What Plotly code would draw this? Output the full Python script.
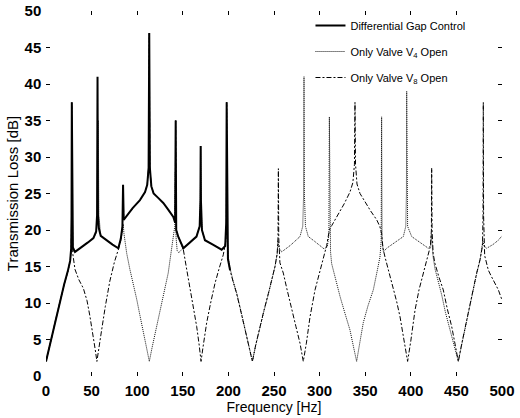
import plotly.graph_objects as go

# (frequency [Hz], transmission loss [dB])
GAP_CONTROL = [(0,2.0),(3,3.6),(6,5.2),(10,7.6),(15,10.2),(20,12.6),(24,14.4),(26.5,15.8),(27.6,17.5),
    (28.0,22),(28.3,37.5),(28.6,22),(29.5,17.6),(31.8,17.0),(40,17.7),(46,18.3),(52,18.9),(55,19.8),
    (56.0,22),(56.5,41),(57.0,22),(58,20.2),(60,19.2),(66,18.6),(73,18.0),(79.3,17.5),(82,18.8),
    (83.8,20.5),(84.5,26.2),(85.2,21.4),(88,21.9),(95,23.0),(103,24.1),(108.6,25.2),(111,26.2),
    (112.5,28.5),(113.2,47),(113.9,28.5),(115.5,26.0),(118,25.0),(123,24.4),(128.6,23.7),(134,22.8),
    (139.6,21.8),(141.6,21.0),(142.2,35),(142.8,20.0),(145,19.1),(150.6,17.5),(158,18.3),(165,19.1),
    (168.5,20.5),(169.3,24),(169.6,31.5),(169.9,24),(171,20),(174.3,18.6),(183,18.0),(192.6,17.3),
    (196.5,17.8),(197.6,21),(198.1,37.5),(198.6,21),(199.5,16.0),(201.8,14.5)]

VALVE_V4 = [(0,2.0),(3,3.5),(6,5.1),(10,7.5),(15,10.1),(20,12.5),(24,14.3),(26.5,15.7),(27.6,17.0),
    (28.3,17.6),(29.5,17.2),(31.8,17.0),(40,17.7),(46,18.3),(52,18.9),(55,19.6),(56.6,22),(57.3,35),
    (58,22),(60,19.3),(66,18.6),(73,18.0),(79.3,17.5),(82,18.5),(83.6,20.2),(84.6,20.8),(85.5,19.5),
    (88.5,16.8),(92,14.6),(95.8,12.7),(99.5,10.5),(103,8.3),(106.5,6.2),(110,4.0),(113.3,2.0),
    (116.5,4.0),(120,6.0),(125,8.5),(130,11.5),(134,14.1),(137,16.8),(139.6,19.3),(141.2,20.5),
    (141.9,28),(142.6,19.0),(143.8,17.2),(145.5,16.9),(148,17.2),(150.6,17.6),(158,18.3),(165,19.1),
    (168.5,20.5),(169.3,24),(169.6,31.5),(169.9,24),(171,20),(174.3,18.6),(183,18.0),(192.6,17.3),
    (196.5,17.7),(197.8,20),(198.4,30),(199,19),(200,16.2),(202,14.7),(205,13.1),(209,11.4),
    (213,9.3),(218.2,6.4),(222,4.3),(226.3,2.0),(230,4.2),(234.6,6.7),(239,8.9),(243.8,11.2),
    (248,13.3),(251.1,15.0),(253.5,16.7),(254.4,18.5),(255.3,17.6),(258.4,17.0),(268,17.9),
    (278.5,19.1),(281.5,20.5),(282.5,25),(282.9,41),(283.3,25),(284.5,20.5),(287.6,19.1),(294,18.5),
    (300.4,17.9),(305,17.4),(308.5,17.7),(310.2,19.5),(310.7,35.5),(311.2,19.5),(312,17),
    (313.2,15.4),(317.5,13.2),(322.4,10.9),(328,8.5),(333.3,6.3),(337.5,3.8),(340.6,2.0),(344,4.5),
    (347.9,7.3),(353,9.6),(358.9,11.8),(363,14.3),(366.2,16.3),(367.5,18.5),(368,35.5),(368.5,18.5),
    (370,17.0),(373.5,17.5),(382,18.3),(391.8,19.1),(394.5,20.5),(395.2,25),(395.5,39),(395.8,25),
    (396.5,20.5),(401,19.1),(410,18.3),(419.2,17.5),(421.8,17.9),(422.5,19.5),(423.4,18.0),
    (424.5,16.3),(426.5,14.7),(431,12.7),(433.9,11.1),(438,8.7),(443,6.2),(447.5,4.0),(452.1,2.0),
    (456,4.4),(461.3,7.7),(466.5,10.9),(472.2,14.0),(476,15.9),(477.7,17.2),(478.9,18.5),
    (480.5,17.8),(483.2,17.5),(490,18.0),(496,18.6),(500,19.2)]

VALVE_V8 = [(0,2.0),(3,3.6),(6,5.2),(10,7.6),(15,10.2),(20,12.6),(24,14.4),(26.5,15.8),(27.6,17.3),
    (28.0,21),(28.3,37.5),(28.6,21),(29.3,16.8),(31.8,14.6),(36,13.2),(41,12.0),(45,10.3),(48,8.3),
    (51,6.2),(54,3.6),(55.8,2.0),(57.5,3.6),(61,6.3),(65,9.5),(70,13.0),(75,15.6),(79.5,17.4),
    (83,19.3),(84.0,20.6),(84.6,26.2),(85.2,21.4),(88,21.9),(95,23.0),(103,24.1),(108.6,25.2),
    (111,26.2),(112.5,28.5),(113.2,47),(113.9,28.5),(115.5,26.0),(118,25.0),(123,24.4),(128.6,23.7),
    (134,22.8),(139.6,21.8),(141.6,21.0),(142.2,35),(142.8,20.0),(145,19.3),(150.6,17.3),(154,14.8),
    (157.9,12.2),(161.5,9.6),(165.2,6.8),(168,4.2),(170,2.0),(172,3.8),(176.2,7.3),(180.5,10.0),
    (185.3,12.7),(190,14.8),(194.4,16.6),(197.2,18.5),(197.8,21),(198.1,37.5),(198.5,21),
    (199.5,16.0),(201.8,14.5),(205,13.0),(209,11.3),(213,9.2),(218.2,6.3),(222,4.2),(226.3,2.0),
    (230,4.3),(234.6,6.8),(239,9.0),(243.8,11.3),(248,13.4),(251.1,15.0),(253.5,16.8),(254.4,19),
    (254.8,28.4),(255.2,19),(256.5,15.5),(260.2,14.1),(264,12.0),(269.4,9.0),(274,6.8),(278.5,4.5),
    (282.1,2.0),(285.5,4.5),(289.5,8.1),(295,11.8),(300.4,14.5),(304,16.2),(307.8,17.9),(310,19.5),
    (311.5,20.3),(313.3,20.6),(320,22.0),(327,23.6),(333.3,25.2),(336.5,26.5),(338.2,29),
    (338.8,37.5),(339.4,29),(341,26.3),(344.3,25.0),(350,23.8),(356,22.6),(362.6,21.4),(366,20.5),
    (368,19.5),(369.5,17.5),(371.7,16.3),(376,14.3),(380.8,12.2),(384.5,10.2),(388.2,8.1),(392,5.5),
    (396.5,2.0),(400,4.8),(404.6,9.0),(409,11.8),(413.7,14.1),(418,16.3),(421.5,17.8),(422.6,20),
    (422.9,28.5),(423.3,20),(424.5,16.8),(426.5,15.4),(431,13.5),(435.6,11.8),(440,9.2),(444.8,6.8),
    (448.5,4.4),(452.1,2.0),(456,4.5),(461.3,7.8),(466.5,11.0),(472.2,14.1),(476,16.0),(478.6,17.8),
    (479.2,22),(479.5,37.5),(479.8,22),(481,16.5),(485,14.5),(488.5,13.6),(492.3,12.7),(496,11.8),
    (500,10.4)]

NAMES = ["Differential Gap Control", "Only Valve V<sub>4</sub> Open", "Only Valve V<sub>8</sub> Open"]
X_TICKS = [0, 50, 100, 150, 200, 250, 300, 350, 400, 450, 500]
Y_TICKS = [0, 5, 10, 15, 20, 25, 30, 35, 40, 45, 50]

FONT = "Liberation Sans, Arial, sans-serif"

fig = go.Figure()
styles = [
    (GAP_CONTROL, dict(color="black", width=2, dash="solid"), 3),
    (VALVE_V4, dict(color="#111111", width=1, dash="1px,1px"), 1),
    (VALVE_V8, dict(color="black", width=1, dash="5px,2px,2px,2px"), 2),
]
for i, (pts, line, z) in enumerate(styles):
    fig.add_trace(go.Scatter(
        x=[p[0] for p in pts], y=[p[1] for p in pts], mode="lines",
        name=NAMES[i], line=line, zorder=z, legendgroup=f"g{i}",
    ))

axis_common = dict(showline=True, linecolor="black", linewidth=1.5, mirror="ticks",
                   ticks="inside", ticklen=4, tickcolor="black", showgrid=False, zeroline=False,
                   automargin=False,
                   tickfont=dict(family=FONT, size=15, color="black", weight="bold"))

fig.update_layout(
    width=520, height=418,
    margin=dict(l=46, r=18, t=11, b=42),
    paper_bgcolor="white", plot_bgcolor="white",
    font=dict(family=FONT, color="black"),
    showlegend=True,
    legend=dict(x=0.58, y=1.0, xanchor="left", yanchor="top", bgcolor="rgba(0,0,0,0)",
                font=dict(family=FONT, size=11, color="black"),
                traceorder="grouped", tracegroupgap=7),
    xaxis=dict(range=[0, 500], tickvals=X_TICKS,
               title=dict(text="Frequency [Hz]", font=dict(family=FONT, size=14), standoff=2),
               **axis_common),
    yaxis=dict(range=[0, 50], tickvals=Y_TICKS,
               title=dict(text="Transmission Loss [dB]", font=dict(family=FONT, size=15), standoff=2),
               **axis_common),
)

fig.write_html("out.html")
